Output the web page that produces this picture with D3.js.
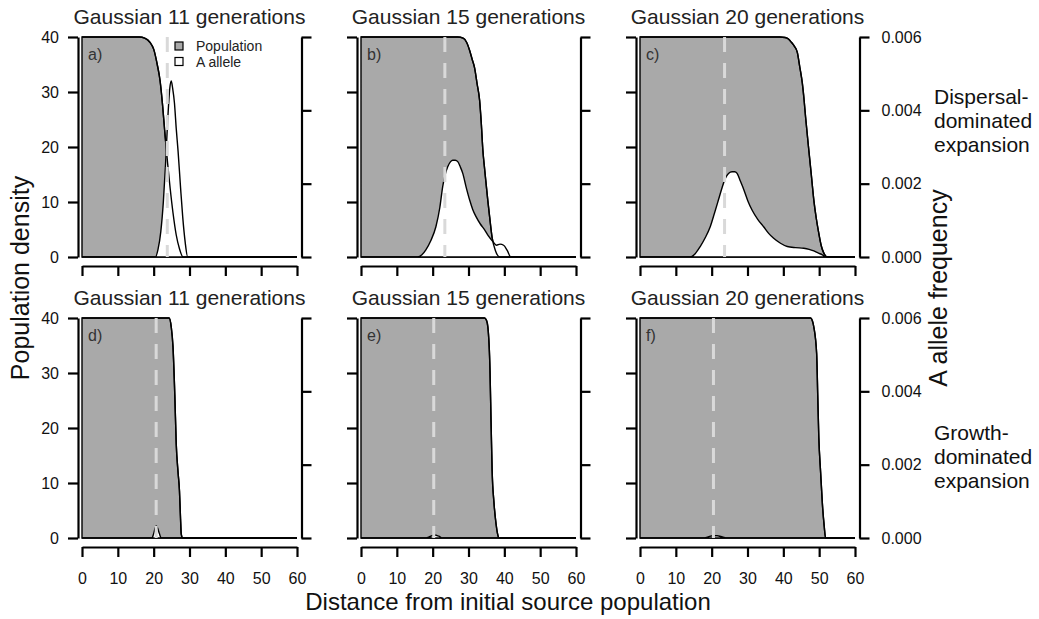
<!DOCTYPE html>
<html>
<head>
<meta charset="utf-8">
<script src="https://cdn.jsdelivr.net/npm/d3@7"></script>
<style>
  body { margin: 0; background: #fff; }
  text { font-family: "Liberation Sans", Arial, sans-serif; }
</style>
</head>
<body>
<svg id="chart" width="1039" height="619"></svg>
<script>
// tick values
const distTicks = [0, 10, 20, 30, 40, 50, 60];
const densityTicks = [0, 10, 20, 30, 40];
const freqTicks = [0, 0.002, 0.004, 0.006];

const generations = [11, 15, 20, 11, 15, 20];
const panelLetters = ["a)", "b)", "c)", "d)", "e)", "f)"];
// dashed marker (distance)
const markerPos = [23.8, 23.4, 23.6, 20.7, 20.3, 20.5];

// population density, [distance, density]
const popA = [[0,40],[16,40],[17.5,39.8],[19,39],[20,37.8],[21,35],[21.8,32],[22.5,27.5],[23.2,22],[23.9,17],[24.6,12.5],[25.4,8],[26.3,4],[27.2,1.5],[28.2,0],[60,0]];
const popB = [[0,40],[27,40],[28.5,39.8],[29.5,39],[30.3,37.6],[31,36],[31.7,34.4],[32.4,31.5],[33.1,28.5],[33.6,24],[34,19.5],[34.5,16],[34.9,13.4],[35.4,10.2],[35.9,7.3],[36.6,3.5],[37.5,1.2],[38.7,0],[60,0]];
const popC = [[0,40],[39,40],[40.5,39.9],[41.5,39.6],[42.3,39],[43.1,38.3],[43.9,37.2],[44.6,34.5],[45.3,31.6],[45.8,28.5],[46.2,25.5],[47.1,19.5],[47.8,15],[48.5,10.4],[49.2,7],[49.9,4.3],[50.6,2],[51.3,0.7],[52.3,0],[60,0]];
const popD = [[0,40],[24.3,40],[24.9,38.4],[25.4,34.7],[25.9,26],[26.3,17.1],[26.8,12],[27.2,8.6],[27.5,3.5],[27.7,0.7],[28.1,0],[60,0]];
const popE = [[0,40],[34.5,40],[35,39.6],[35.4,38.4],[36,30.5],[36.3,21],[36.6,12.2],[37.1,6.5],[37.7,2.5],[38.1,0.8],[38.5,0],[60,0]];
const popF = [[0,40],[47.6,40],[48.1,39.5],[48.5,38.4],[49.3,33.5],[49.6,26],[49.9,18.3],[50.4,12],[50.9,6.2],[51.4,2.2],[51.8,0],[60,0]];

// A allele frequency, [distance, frequency]
const alleleA = [[0,0],[20.5,0],[21.2,0.0002],[22,0.0007],[22.7,0.0015],[23.3,0.0025],[23.9,0.0037],[24.5,0.0046],[24.9,0.0048],[25.3,0.0046],[25.8,0.0042],[26.3,0.0035],[26.8,0.0029],[27.5,0.0019],[28.1,0.0011],[28.8,0.0004],[29.5,0],[60,0]];
const alleleB = [[0,0],[15.8,0],[17,0.00006],[18.1,0.000195],[19.5,0.00045],[20.9,0.000825],[22,0.00135],[22.8,0.00192],[23.5,0.00225],[24.2,0.00246],[25,0.0026],[25.6,0.00264],[26.3,0.00264],[27,0.0026],[27.7,0.00246],[28.4,0.00228],[29.3,0.00192],[30.3,0.00156],[31.2,0.00129],[32.1,0.0011],[33.3,0.0009],[34.5,0.00074],[35.6,0.00057],[36.8,0.00042],[37.8,0.00032],[38.8,0.00035],[39.8,0.00032],[40.8,0.00018],[41.8,0],[60,0]];
const alleleC = [[0,0],[14,0],[15.4,0.00009],[16.8,0.000285],[18.2,0.000525],[19.6,0.000825],[20.8,0.0012],[21.9,0.00156],[22.9,0.00189],[23.8,0.002145],[24.7,0.00228],[25.7,0.002325],[26.4,0.002325],[27.1,0.00228],[28,0.00207],[29,0.00183],[30.1,0.00153],[31.3,0.001275],[32.9,0.00102],[34.5,0.000825],[35.9,0.000645],[37.3,0.00051],[39.2,0.000375],[41.1,0.000285],[43.4,0.000255],[45.7,0.00024],[47.2,0.00021],[48.5,0.000165],[49.8,0.000105],[50.9,0.00006],[51.8,0],[60,0]];
const alleleD = [[0,0],[19.5,0],[20,0.00012],[20.4,0.00027],[20.7,0.00033],[21.1,0.00027],[21.6,0.00012],[22.1,0],[60,0]];
const alleleE = [[0,0],[18.1,0],[19.3,0.00004],[20.5,0.00008],[21.7,0.00005],[22.8,0],[60,0]];
const alleleF = [[0,0],[17.7,0],[19,0.00003],[20.3,0.00006],[21.5,0.00006],[23,0.00003],[24.3,0],[60,0]];

const populations = [popA, popB, popC, popD, popE, popF];
const alleles = [alleleA, alleleB, alleleC, alleleD, alleleE, alleleF];

const svg = d3.select("#chart");
const colLeft = [82, 361, 640], plotW = 215;
const rowTop = [37, 318], plotH = 220;
const tickLen = 10;

function styleAxis(g) {
    g.select(".domain").attr("stroke", "#000").attr("stroke-width", 2.2);
    g.selectAll(".tick line").attr("stroke", "#000").attr("stroke-width", 2.2);
    g.selectAll(".tick text").attr("fill", "#111").style("font-size", "16px");
}

populations.forEach((pop, i) => {
    const col = i % 3, row = Math.floor(i / 3);
    const x0 = colLeft[col], yTop = rowTop[row];
    const x = d3.scaleLinear().domain([0, 60]).range([x0, x0 + plotW]);
    const yPop = d3.scaleLinear().domain([0, 40]).range([yTop + plotH, yTop]);
    const yFreq = d3.scaleLinear().domain([0, 0.006]).range([yTop + plotH, yTop]);
    const g = svg.append("g").attr("class", "panel");

    const popArea = d3.area()
        .x(d => x(d[0])).y0(yPop(0)).y1(d => yPop(d[1]))
        .curve(d3.curveMonotoneX);
    const popLine = d3.line()
        .x(d => x(d[0])).y(d => yPop(d[1]))
        .curve(d3.curveMonotoneX);
    const alleleArea = d3.area()
        .x(d => x(d[0])).y0(yFreq(0)).y1(d => yFreq(d[1]))
        .curve(d3.curveMonotoneX);

    g.append("path").datum(pop)
        .attr("d", popArea)
        .attr("fill", "#a9a9a9")
        .attr("stroke", "#000")
        .attr("stroke-width", 1.4);

    g.append("path").datum(alleles[i])
        .attr("d", alleleArea)
        .attr("fill", "#fff")
        .attr("stroke", "#000")
        .attr("stroke-width", 1.4);

    g.append("path").datum(pop)
        .attr("d", popLine)
        .attr("fill", "none")
        .attr("stroke", "#000")
        .attr("stroke-width", 1.4);

    g.append("line")
        .attr("x1", x(markerPos[i])).attr("x2", x(markerPos[i]))
        .attr("y1", yPop(40)).attr("y2", yPop(0))
        .attr("stroke", "#d9d9d9")
        .attr("stroke-width", 3)
        .attr("stroke-dasharray", "15,11");

    // left axis
    g.append("g")
        .attr("transform", `translate(${x0 - 4},0)`)
        .call(d3.axisLeft(yPop).tickValues(densityTicks).tickSize(tickLen).tickSizeOuter(0).tickPadding(9)
            .tickFormat(col === 0 ? d3.format("d") : ""))
        .call(styleAxis);

    // right axis
    g.append("g")
        .attr("transform", `translate(${x0 + plotW + 4.5},0)`)
        .call(d3.axisRight(yFreq).tickValues(freqTicks).tickSize(tickLen).tickSizeOuter(0).tickPadding(12)
            .tickFormat(col === 2 ? d3.format(".3f") : ""))
        .call(styleAxis);

    // bottom axis
    g.append("g")
        .attr("transform", `translate(0,${yTop + plotH + 9})`)
        .call(d3.axisBottom(x).tickValues(distTicks).tickSize(tickLen).tickSizeOuter(0).tickPadding(16)
            .tickFormat(row === 1 ? d3.format("d") : ""))
        .call(styleAxis);

    g.append("text")
        .attr("x", x0 + plotW / 2)
        .attr("y", yTop - 13)
        .attr("text-anchor", "middle")
        .attr("fill", "#222")
        .style("font-size", "21px")
        .text(`Gaussian ${generations[i]} generations`);

    g.append("text")
        .attr("x", x0 + 6)
        .attr("y", yTop + 23)
        .attr("fill", "#333")
        .style("font-size", "16px")
        .text(panelLetters[i]);

    if (i === 0) {
        const legendItems = [["Population", "#a9a9a9"], ["A allele", "#fff"]];
        legendItems.forEach((item, k) => {
            g.append("rect")
                .attr("x", 175).attr("y", yTop + 5 + k * 15.5)
                .attr("width", 8).attr("height", 8)
                .attr("fill", item[1]).attr("stroke", "#000").attr("stroke-width", 1.2);
            g.append("text")
                .attr("x", 196).attr("y", yTop + 14 + k * 15.5)
                .attr("fill", "#222")
                .style("font-size", "14px")
                .text(item[0]);
        });
    }
});

// shared axis titles
svg.append("text")
    .attr("transform", "translate(29,278) rotate(-90)")
    .attr("text-anchor", "middle")
    .attr("fill", "#111")
    .style("font-size", "25px")
    .text("Population density");

svg.append("text")
    .attr("transform", "translate(947,288) rotate(-90)")
    .attr("text-anchor", "middle")
    .attr("fill", "#111")
    .style("font-size", "25px")
    .text("A allele frequency");

svg.append("text")
    .attr("x", 508)
    .attr("y", 610)
    .attr("text-anchor", "middle")
    .attr("fill", "#111")
    .style("font-size", "24px")
    .text("Distance from initial source population");

const rowNotes = [["Dispersal-", "dominated", "expansion"], ["Growth-", "dominated", "expansion"]];
const noteTop = [104, 440];
rowNotes.forEach((lines, r) => {
    const t = svg.append("text")
        .attr("x", 934)
        .attr("y", noteTop[r])
        .attr("fill", "#111")
        .style("font-size", "21px");
    lines.forEach((s, k) => {
        t.append("tspan").attr("x", 934).attr("dy", k === 0 ? 0 : 24).text(s);
    });
});
</script>
</body>
</html>
